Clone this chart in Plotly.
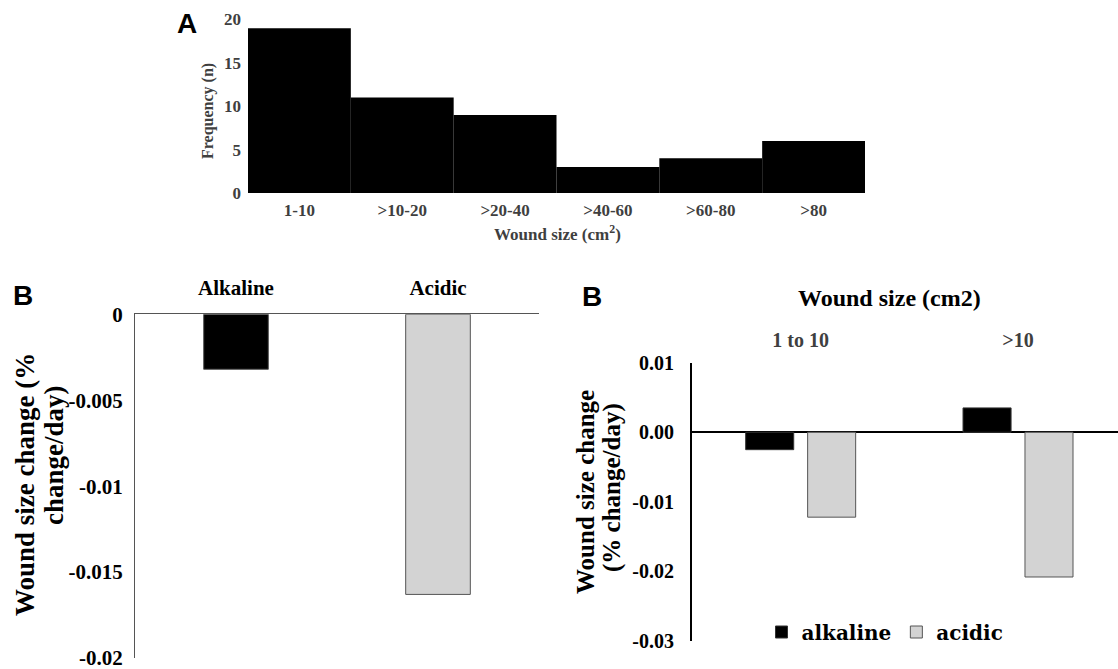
import plotly.graph_objects as go

# ---------------- data ----------------
hist_categories = ["1-10", ">10-20", ">20-40", ">40-60", ">60-80", ">80"]
hist_counts = [19, 11, 9, 3, 4, 6]
hist_ticks = [0, 5, 10, 15, 20]

ph_categories = ["Alkaline", "Acidic"]
ph_values = [-0.0032, -0.0163]
ph_tickvals = [0, -0.005, -0.01, -0.015, -0.02]
ph_ticktext = ["0", "-0.005", "-0.01", "-0.015", "-0.02"]

size_categories = ["1 to 10", ">10"]
series_names = ["alkaline", "acidic"]
alkaline_values = [-0.0025, 0.0035]
acidic_values = [-0.0122, -0.0208]
size_tickvals = [0.01, 0.0, -0.01, -0.02, -0.03]
size_ticktext = ["0.01", "0.00", "-0.01", "-0.02", "-0.03"]

# ---------------- layout helpers ----------------
W, H = 1118, 669
def px(x):
    return x / W
def py(y):
    return 1 - y / H

SERIF = "Liberation Serif"
SANS = "Liberation Sans"
GRAY = "#3f3f3f"

def f(size, color="black", family=SERIF):
    return dict(family=family, size=size, color=color, weight="bold")

fig = go.Figure()

# Panel A histogram
fig.add_trace(go.Bar(
    x=hist_categories, y=hist_counts, width=1,
    marker=dict(color="black", line=dict(width=0)),
    xaxis="x", yaxis="y", showlegend=False))

# Panel B left
fig.add_trace(go.Bar(
    x=ph_categories, y=ph_values, width=0.32,
    marker=dict(color=["black", "#d3d3d3"], line=dict(color="#555555", width=1)),
    xaxis="x2", yaxis="y2", showlegend=False))

# Panel B right
fig.add_trace(go.Bar(
    x=size_categories, y=alkaline_values, name=series_names[0],
    width=0.221, offset=-0.253,
    marker=dict(color="black", line=dict(color="#333333", width=1)),
    xaxis="x3", yaxis="y3"))
fig.add_trace(go.Bar(
    x=size_categories, y=acidic_values, name=series_names[1],
    width=0.221, offset=0.032,
    marker=dict(color="#d3d3d3", line=dict(color="#555555", width=1)),
    xaxis="x3", yaxis="y3"))

fig.update_layout(
    template="none",
    width=W, height=H,
    margin=dict(l=0, r=0, t=0, b=0, autoexpand=False),
    font=dict(family=SERIF, color="black"),
    paper_bgcolor="white", plot_bgcolor="rgba(0,0,0,0)",
    barmode="overlay",
    # Panel A
    xaxis=dict(domain=[px(248), px(865)], anchor="y", type="category",
               range=[-0.5, 5.5], showgrid=False, showline=False, ticks="",
               tickfont=f(17, GRAY), ticklabelstandoff=5, zeroline=False,
               automargin=False, ticklabeloverflow="allow"),
    yaxis=dict(domain=[py(193), py(19.5)], anchor="x", range=[0, 20],
               tickvals=hist_ticks, showgrid=False, showline=False, ticks="",
               zeroline=False, tickfont=f(17, GRAY), ticklabelstandoff=6,
               automargin=False, ticklabeloverflow="allow"),
    # Panel B left
    xaxis2=dict(domain=[px(135), px(539)], anchor="y2", type="category",
                range=[-0.5, 1.5], side="top", showgrid=False, showline=True,
                linecolor="#555555", linewidth=1, ticks="",
                tickfont=f(21), ticklabelstandoff=10, zeroline=False,
                automargin=False, ticklabeloverflow="allow"),
    yaxis2=dict(domain=[py(658), py(314.3)], anchor="x2", range=[-0.02, 0],
                tickvals=ph_tickvals, ticktext=ph_ticktext, showgrid=False,
                showline=True, linecolor="#555555", linewidth=1, ticks="",
                zeroline=False, tickfont=f(21), ticklabelstandoff=7,
                automargin=False, ticklabeloverflow="allow"),
    # Panel B right
    xaxis3=dict(domain=[px(692), 1.0], anchor="y3", type="category",
                range=[-0.5, 1.46], side="top", showgrid=False, showline=False,
                ticks="", tickfont=f(20, GRAY), ticklabelstandoff=11,
                zeroline=False, automargin=False, ticklabeloverflow="allow"),
    yaxis3=dict(domain=[py(641), py(362.7)], anchor="x3", range=[-0.03, 0.01],
                tickvals=size_tickvals, ticktext=size_ticktext, showgrid=False,
                showline=True, linecolor="black", linewidth=2, ticks="",
                zeroline=True, zerolinecolor="black", zerolinewidth=2,
                tickfont=f(20), ticklabelstandoff=12, automargin=False,
                ticklabeloverflow="allow"),
    legend=dict(orientation="h", x=px(885), y=py(632), xanchor="center",
                yanchor="middle",
                font=dict(family="DejaVu Serif", size=20, color="black",
                          weight="bold"),
                bgcolor="rgba(0,0,0,0)", itemwidth=30, tracegroupgap=0),
)

annotations = [
    dict(text="A", x=px(187), y=py(24), font=f(28, "black", SANS)),
    dict(text="B", x=px(22.5), y=py(295), font=f(28, "black", SANS)),
    dict(text="B", x=px(592), y=py(296), font=f(28, "black", SANS)),
    dict(text="Wound size (cm<sup>2</sup>)", x=px(557), y=py(233), font=f(17, GRAY)),
    dict(text="Frequency (n)", x=px(208), y=py(111), textangle=-90, font=f(16, GRAY)),
    dict(text="Wound size change (%", x=px(25), y=py(485), textangle=-90, font=f(27)),
    dict(text="change/day)", x=px(54), y=py(455), textangle=-90, font=f(27)),
    dict(text="Wound size change", x=px(585), y=py(492), textangle=-90, font=f(25)),
    dict(text="(% change/day)", x=px(612), y=py(488), textangle=-90, font=f(25)),
    dict(text="Wound size (cm2)", x=px(889), y=py(298), font=f(24)),
]
for a in annotations:
    a.update(xref="paper", yref="paper", showarrow=False,
             xanchor="center", yanchor="middle")
fig.update_layout(annotations=annotations)

fig.write_html("out.html",
               config={"displayModeBar": False},
               post_script="document.body.style.margin='0';"
                           "document.body.style.overflow='hidden';")
